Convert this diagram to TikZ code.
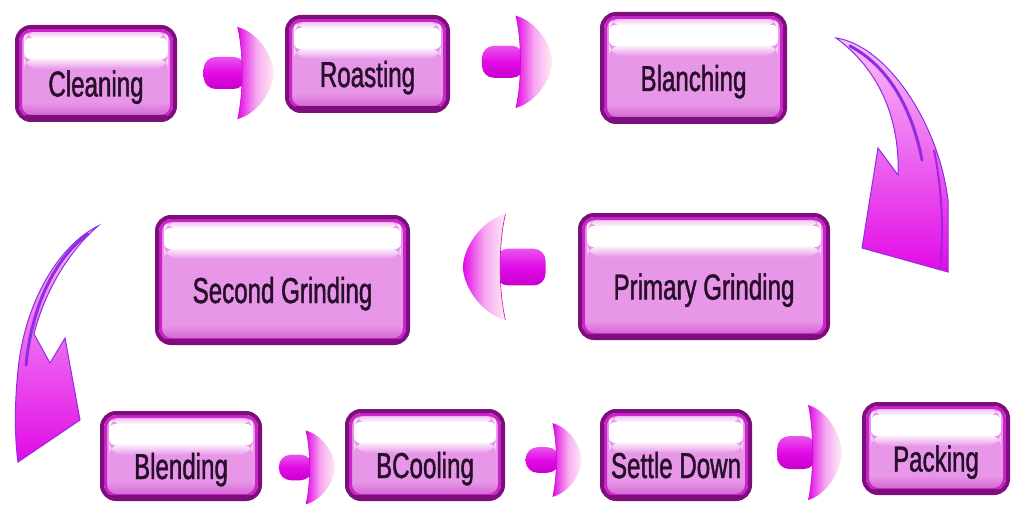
\documentclass[tikz,border=0pt]{standalone}
\usepackage{fontspec}
\newfontfamily\boxfont{Liberation Sans}[FakeStretch=0.67,FakeBold=1.2]
\usetikzlibrary{calc}
\pgfdeclarelayer{background}
\pgfsetlayers{background,main}

\definecolor{boxborder}{RGB}{125,15,125}
\definecolor{boxring}{RGB}{205,35,205}
\definecolor{boxfill}{RGB}{232,150,232}
\definecolor{boxlow}{RGB}{205,90,205}
\definecolor{txt}{RGB}{38,15,42}
\definecolor{shadowc}{RGB}{220,150,220}
\definecolor{mag}{RGB}{226,10,230}
\definecolor{magd}{RGB}{200,0,205}
\definecolor{vio}{RGB}{145,45,225}
\definecolor{headpale}{RGB}{255,235,245}

\tikzset{
  stepbox/.style={rectangle, rounded corners=14pt, draw=boxborder, line width=4pt,
    fill=boxfill, text=txt, font=\boxfont\fontsize{36}{38}\selectfont,
    text height=50pt, text depth=4pt, inner sep=2pt,
    path picture={
      \coordinate (pnw) at (path picture bounding box.north west);
      \coordinate (pne) at (path picture bounding box.north east);
      \coordinate (pse) at (path picture bounding box.south east);
      \coordinate (psw) at (path picture bounding box.south west);
      \shade[top color=boxfill, bottom color=boxlow] ($(psw)+(0,-18)$) rectangle (pse);
      \shade[top color=boxfill!60!white, bottom color=white] ($(pnw)+(7,4)$) rectangle ($(pne)+(-7,12)$);
      \fill[white, rounded corners=6pt] ($(pnw)+(7,11)$) rectangle ($(pne)+(-7,32)$);
      \shade[top color=white, bottom color=boxfill] ($(pnw)+(7,30)$) rectangle ($(pne)+(-7,42)$);
      \draw[boxring, line width=3pt, rounded corners=11pt] ($(pnw)+(3.5,3.5)$) rectangle ($(pse)+(-3.5,-3.5)$);
      \draw[boxborder, line width=3pt] ($(psw)+(8,-3)$) -- ($(pse)+(-8,-3)$);
    }},
  blockarrow/.pic={
    \shade[top color=mag!70!white, bottom color=magd, middle color=mag, rounded corners=12pt] (-36,-16) rectangle (6,16);
    \shade[left color=mag, right color=headpale, middle color=mag!30!headpale]
      (-2,-46) .. controls (20,-40) and (34,-15) .. (34,0)
      .. controls (34,15) and (20,40) .. (-2,46)
      .. controls (4,20) and (4,-20) .. cycle;
    \draw[mag!85!black, line width=0.6pt]
      (-2,-46) .. controls (4,-20) and (4,20) .. (-2,46);
  },
}

\begin{document}
\begin{tikzpicture}[x=1pt,y=-1pt]
\useasboundingbox (0,0) rectangle (1014,508);
\fill[white] (0,0) rectangle (1014,508);

% boxes
\node[stepbox, minimum width=158pt, minimum height=93pt] (clean) at (96,73.5) {Cleaning};
\node[stepbox, minimum width=161pt, minimum height=94pt] (roast) at (367.5,64) {Roasting};
\node[stepbox, minimum width=183pt, minimum height=108pt] (blanch) at (693.5,68) {Blanching};
\node[stepbox, minimum width=248pt, minimum height=123pt] (prim) at (704,276.5) {Primary Grinding};
\node[stepbox, minimum width=251pt, minimum height=126pt] (second) at (282.5,280) {Second Grinding};
\node[stepbox, minimum width=158pt, minimum height=86pt] (blend) at (181,456) {Blending};
\node[stepbox, minimum width=156pt, minimum height=88pt] (bcool) at (425,455) {BCooling};
\node[stepbox, minimum width=148pt, minimum height=88pt] (settle) at (676,455) {Settle Down};
\node[stepbox, minimum width=144pt, minimum height=89pt] (pack) at (936,448.5) {Packing};

% soft shadows
\begin{pgfonlayer}{background}
\foreach \n in {clean,roast,blanch,prim,second,blend,bcool,settle,pack}{
  \fill[shadowc, opacity=0.45, rounded corners=14pt] ($(\n.south west)+(2,8)$) rectangle ($(\n.north east)+(-2,10)$);
  \fill[shadowc, opacity=0.35, rounded corners=14pt] ($(\n.south west)+(-2,4)$) rectangle ($(\n.north east)+(2,4)$);
}
\end{pgfonlayer}

% straight block arrows
\pic at ($(clean.east)!0.58!(roast.west)+(0,5)$) {blockarrow};
\pic at ($(roast.east)!0.453!(blanch.west)+(0,-4)$) {blockarrow};
\pic[xscale=-1.18, yscale=1.15] at ($(prim.west)!0.446!(second.east)+(0,-11)$) {blockarrow};
\pic[scale=0.8] at ($(blend.east)!0.55!(bcool.west)+(0,12)$) {blockarrow};
\pic[scale=0.8] at ($(bcool.east)!0.52!(settle.west)+(0,5)$) {blockarrow};
\pic[xscale=0.92, yscale=1.03] at ($(settle.east)!0.53!(pack.west)+(0,1)$) {blockarrow};

% big curved arrow: Blanching -> Primary Grinding
\shade[top color=mag!25!white, bottom color=mag, draw=vio, line width=1pt]
  (836,38) .. controls (885,45) and (938,120) .. (948,200)
  -- (948,272) -- (862,248) -- (878,148) -- (898,175)
  .. controls (900,120) and (880,70) .. cycle;
\draw[vio, line width=3pt, line cap=round] (850,46) .. controls (888,66) and (912,108) .. (922,160);
\draw[vio!80!mag, line width=2pt] (934,150) .. controls (942,190) and (944,230) .. (940,268);

% big curved arrow: Second Grinding -> Blending
\shade[top color=mag!25!white, bottom color=mag, draw=vio, line width=1pt]
  (98,226) .. controls (60,245) and (25,300) .. (18,370)
  .. controls (14,410) and (15,440) .. (18,462)
  -- (80,420) -- (65,338) -- (50,363) -- (34,334)
  .. controls (45,290) and (70,250) .. cycle;
\draw[vio, line width=3pt, line cap=round] (88,234) .. controls (55,258) and (32,305) .. (26,365);
\end{tikzpicture}
\end{document}
